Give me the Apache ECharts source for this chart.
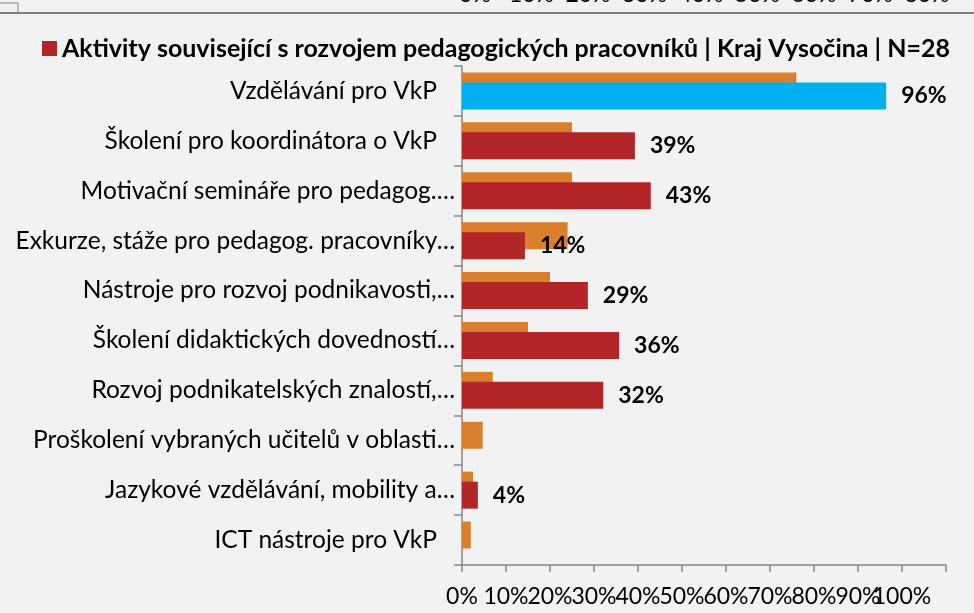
<!DOCTYPE html>
<html>
<head>
<meta charset="utf-8">
<script src="https://cdn.jsdelivr.net/npm/echarts@6/dist/echarts.min.js"></script>
<style>
  html, body { margin: 0; padding: 0; background: #f2f2f2; }
  #main { width: 974px; height: 613px; }
</style>
</head>
<body>
<div id="main"></div>
<script>
// kategorie (shora dolu)
const categories = [
  'Vzdělávání pro VkP',
  'Školení pro koordinátora o VkP',
  'Motivační semináře pro pedagog.…',
  'Exkurze, stáže pro pedagog. pracovníky…',
  'Nástroje pro rozvoj podnikavosti,…',
  'Školení didaktických dovedností…',
  'Rozvoj podnikatelských znalostí,…',
  'Proškolení vybraných učitelů v oblasti…',
  'Jazykové vzdělávání, mobility a…',
  'ICT nástroje pro VkP'
]
// Kraj Vysocina, N=28 (v %)
const krajValues = [96.4, 39.3, 42.9, 14.3, 28.6, 35.7, 32.1, 0, 3.6, 0]
// srovnani (oranzove sloupce)
const compareValues = [76, 25, 25, 24, 20, 15, 7, 4.7, 2.5, 2]
const xTicks = [0, 10, 20, 30, 40, 50, 60, 70, 80, 90, 100]

const seriesName = 'Aktivity související s rozvojem pedagogických pracovníků | Kraj Vysočina | N=28'
const font = 'Lato, "Open Sans", sans-serif'

var myChart = echarts.init(document.getElementById('main'))

var option = {
  backgroundColor: '#f2f2f2',
  animation: false,
  legend: {
    data: [seriesName],
    left: 37,
    top: 31,
    icon: 'rect',
    itemWidth: 15,
    itemHeight: 15,
    itemGap: 6,
    textStyle: { fontFamily: font, fontWeight: 'bold', fontSize: 25, color: '#000' }
  },
  grid: [
    { left: 462, right: 28, top: 66, bottom: 48 },
    // zbytek osy z predchoziho grafu nahore
    { left: 475, width: 452, top: -50, height: 30 }
  ],
  xAxis: [
    {
      type: 'value',
      min: 0,
      max: 110,
      interval: 10,
      splitLine: { show: false },
      axisLine: { show: true, lineStyle: { color: '#868686', width: 1.5 } },
      axisTick: { show: true, length: 7, lineStyle: { color: '#868686', width: 1.5 } },
      axisLabel: {
        margin: 20,
        fontFamily: font,
        fontSize: 23,
        color: '#000',
        formatter: function (v) { return xTicks.indexOf(v) >= 0 ? v + '%' : '' }
      }
    },
    {
      type: 'value',
      gridIndex: 1,
      min: 0,
      max: 80,
      interval: 10,
      splitLine: { show: false },
      axisLine: { show: false },
      axisTick: { show: false },
      axisLabel: { margin: -4, fontFamily: font, fontSize: 23, color: '#000', formatter: '{value}%' }
    }
  ],
  yAxis: [
    {
      type: 'category',
      data: categories,
      inverse: true,
      axisLine: { show: true, lineStyle: { color: '#868686', width: 1.5 } },
      axisTick: { show: true, length: 8, lineStyle: { color: '#868686', width: 1.5 } },
      axisLabel: {
        margin: 7,
        formatter: function (v) {
          return v.slice(-1) === '…' ? '{t|' + v + '}' : '{p|' + v + '}'
        },
        rich: {
          t: { fontFamily: font, fontSize: 24.5, color: '#000' },
          p: { fontFamily: font, fontSize: 24.5, color: '#000', padding: [0, 18, 0, 0] }
        }
      }
    },
    { type: 'value', gridIndex: 1, show: false }
  ],
  graphic: [
    { type: 'line', shape: { x1: 0, y1: 13, x2: 974, y2: 13 }, style: { stroke: '#808080', lineWidth: 2 } },
    { type: 'polyline', shape: { points: [[0, 3], [18, 3], [18, 13]] }, style: { stroke: '#808080', lineWidth: 1, fill: null } }
  ],
  series: [
    {
      name: 'Srovnání',
      type: 'bar',
      data: compareValues,
      barWidth: 27,
      barGap: '-63%',
      itemStyle: { color: '#d97f2e' }
    },
    {
      name: seriesName,
      type: 'bar',
      data: krajValues.map(function (v, i) {
        return i === 0 ? { value: v, itemStyle: { color: '#00b0f0' } } : v
      }),
      barWidth: 27,
      itemStyle: { color: '#b22627' },
      label: {
        show: true,
        position: 'right',
        distance: 15,
        fontFamily: font,
        fontWeight: 'bold',
        fontSize: 23,
        color: '#000',
        formatter: function (p) { return p.value > 0 ? Math.round(p.value) + '%' : '' }
      }
    }
  ]
}

myChart.setOption(option)
</script>
</body>
</html>
